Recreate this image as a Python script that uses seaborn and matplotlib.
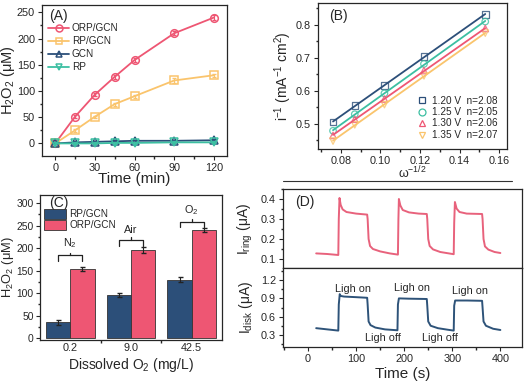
import numpy as np
import pandas as pd
import matplotlib
matplotlib.use("Agg")
import matplotlib.pyplot as plt
from matplotlib.lines import Line2D
from matplotlib.patches import Patch
from matplotlib.container import BarContainer
from matplotlib.ticker import MultipleLocator
import seaborn as sns

sns.set_theme(style="ticks")
plt.rcParams['font.family'] = ['Liberation Sans', 'DejaVu Sans']
plt.rcParams['mathtext.fontset'] = 'custom'
plt.rcParams['mathtext.rm'] = 'Liberation Sans'
plt.rcParams['mathtext.it'] = 'Liberation Sans:italic'
plt.rcParams['mathtext.default'] = 'regular'
plt.rcParams['axes.linewidth'] = 0.9
plt.rcParams['xtick.major.width'] = 0.8
plt.rcParams['ytick.major.width'] = 0.8
plt.rcParams['xtick.major.size'] = 3
plt.rcParams['ytick.major.size'] = 3
plt.rcParams['xtick.minor.size'] = 1.8
plt.rcParams['ytick.minor.size'] = 1.8

# ---------------- data ----------------
# (A)
time_min = [0, 15, 30, 45, 60, 90, 120]
orp_gcn = [0, 51, 93, 127, 159, 210, 240]
rp_gcn = [0, 25, 51, 75, 90, 120, 130]
gcn = [0, 2, 3, 4, 5, 5, 6]
rp = [0, 0, 0, 1, 1, 2, 2]
orp_err = [2, 3, 3, 4, 4, 4, 4]
rpg_err = [2, 3, 2, 3, 3, 4, 3]
gcn_err = [2, 2, 2, 2, 2, 2, 2]
rp_err = [2, 2, 2, 2, 2, 2, 2]

# (B)
omega = [0.076, 0.087, 0.102, 0.122, 0.153]
inv_i_120 = [0.505, 0.555, 0.616, 0.704, 0.830]
inv_i_125 = [0.479, 0.529, 0.592, 0.681, 0.809]
inv_i_130 = [0.465, 0.514, 0.575, 0.661, 0.788]
inv_i_135 = [0.448, 0.497, 0.558, 0.645, 0.774]
b_labels = ["1.20 V  n=2.08", "1.25 V  n=2.05", "1.30 V  n=2.06", "1.35 V  n=2.07"]

# (C)
do_levels = ["0.2", "9.0", "42.5"]
gas_labels = ["N$_2$", "Air", "O$_2$"]
c_rp_gcn = [35, 95, 130]
c_orp_gcn = [153, 196, 240]
c_rp_err = [5, 4, 6]
c_orp_err = [5, 6, 4]

# (D)
t_ring = [17, 40, 63, 64, 65.5, 68, 72, 80, 100, 123, 124, 126, 129, 135, 150, 170, 187,
          188, 189, 192, 197, 210, 230, 247, 248, 250, 253, 260, 275, 303,
          304, 305.5, 309, 315, 330, 362, 363, 365, 368, 375, 388, 400]
i_ring = [0.128, 0.125, 0.120, 0.30, 0.405, 0.370, 0.348, 0.335, 0.327, 0.322, 0.30, 0.20, 0.165, 0.150, 0.138, 0.128, 0.122,
          0.30, 0.400, 0.368, 0.345, 0.333, 0.327, 0.325, 0.30, 0.20, 0.165, 0.148, 0.135, 0.124,
          0.28, 0.385, 0.352, 0.335, 0.327, 0.325, 0.30, 0.20, 0.163, 0.147, 0.135, 0.130]
t_disk = [17, 40, 63, 64, 66, 68, 75, 100, 123, 124, 126, 130, 140, 160, 186,
          187, 189, 210, 247, 248, 250, 255, 270, 290, 303,
          304, 306, 330, 362, 363, 365, 370, 385, 400]
i_disk = [0.41, 0.39, 0.37, 0.80, 0.97, 0.94, 0.93, 0.92, 0.91, 0.80, 0.52, 0.46, 0.42, 0.39, 0.375,
          0.80, 0.90, 0.895, 0.89, 0.78, 0.52, 0.45, 0.41, 0.385, 0.37,
          0.78, 0.865, 0.865, 0.86, 0.75, 0.52, 0.45, 0.40, 0.38]

# ---------------- colours ----------------
c_red = "#EE5673"
c_orange = "#FAC46C"
c_navy = "#2C4F79"
c_teal = "#3CBFA2"

W, H = 526, 383
fig = plt.figure(figsize=(W / 100, H / 100), dpi=100)

def rect(l, r, t, b):
    return [l / W, 1 - b / H, (r - l) / W, (b - t) / H]

# ================= (A) =================
axA = fig.add_axes(rect(42, 227, 5, 156))
seriesA = [("ORP/GCN", orp_gcn, orp_err, c_red, "o"),
           ("RP/GCN", rp_gcn, rpg_err, c_orange, "s"),
           ("GCN", gcn, gcn_err, c_navy, "^"),
           ("RP", rp, rp_err, c_teal, "v")]
handlesA = []
for name, vals, err, col, mk in seriesA:
    sns.lineplot(x=time_min, y=vals, ax=axA, color=col, lw=1.3, marker=mk,
                 markersize=5.5, markerfacecolor="none", markeredgecolor=col,
                 markeredgewidth=1.1)
    axA.errorbar(time_min, vals, yerr=err, fmt="none", ecolor=col, elinewidth=0.8, capsize=1.5)
    handlesA.append(Line2D([0], [0], color=col, lw=1.3, marker=mk, markersize=5,
                           markerfacecolor="none", markeredgecolor=col, markeredgewidth=1.1))
axA.set_xlim(-10, 130)
axA.set_ylim(-24, 264)
axA.set_xticks([0, 30, 60, 90, 120])
axA.xaxis.set_minor_locator(MultipleLocator(15))
axA.set_yticks([0, 50, 100, 150, 200, 250])
axA.yaxis.set_minor_locator(MultipleLocator(25))
axA.tick_params(labelsize=7.8, pad=2)
axA.set_xlabel("Time (min)", fontsize=11, labelpad=-1)
axA.set_ylabel("H$_2$O$_2$ (μM)", fontsize=10.5)
axA.yaxis.set_label_coords(-0.135, 0.5)
axA.legend(handlesA, [s[0] for s in seriesA], loc="upper left", bbox_to_anchor=(0.0, 0.92),
           frameon=False, fontsize=7.2, handlelength=2.1, handletextpad=0.3,
           labelspacing=0.3, borderaxespad=0.2)
axA.text(0.04, 0.975, "(A)", transform=axA.transAxes, fontsize=10, va="top", ha="left")

# ================= (B) =================
axB = fig.add_axes(rect(318, 507, 3, 149))
seriesB = [(inv_i_120, c_navy, "s"), (inv_i_125, c_teal, "o"),
           (inv_i_130, c_red, "^"), (inv_i_135, c_orange, "v")]
handlesB = []
for vals, col, mk in seriesB:
    sns.regplot(x=omega, y=vals, ax=axB, ci=None, marker=mk, color=col,
                scatter_kws=dict(facecolors="none", edgecolors=col, s=22, linewidths=0.9),
                line_kws=dict(lw=1.3, color=col))
    handlesB.append(Line2D([0], [0], linestyle="none", marker=mk, markersize=5,
                           markerfacecolor="none", markeredgecolor=col, markeredgewidth=0.9))
axB.set_xlim(0.0684, 0.164)
axB.set_ylim(0.424, 0.865)
axB.set_xticks([0.08, 0.10, 0.12, 0.14, 0.16])
axB.set_xticklabels(["0.08", "0.10", "0.12", "0.14", "0.16"])
axB.xaxis.set_minor_locator(MultipleLocator(0.01))
axB.set_yticks([0.5, 0.6, 0.7, 0.8])
axB.yaxis.set_minor_locator(MultipleLocator(0.05))
axB.tick_params(labelsize=7.8, pad=2)
axB.set_xlabel("ω$^{-1/2}$", fontsize=9, labelpad=-1)
axB.set_ylabel("i$^{-1}$ (mA$^{-1}$ cm$^2$)", fontsize=10)
axB.yaxis.set_label_coords(-0.127, 0.5)
axB.legend(handlesB, b_labels, loc="lower right", frameon=False, fontsize=7.2,
           handletextpad=0.4, labelspacing=0.15, borderaxespad=0.5, handlelength=1.2)
axB.text(0.06, 0.96, "(B)", transform=axB.transAxes, fontsize=10, va="top", ha="left")

# ================= (C) =================
axC = fig.add_axes(rect(40, 222, 195, 340))
dfC = pd.DataFrame({
    "DO": do_levels * 2,
    "H2O2": c_rp_gcn + c_orp_gcn,
    "Sample": ["RP/GCN"] * 3 + ["ORP/GCN"] * 3,
})
sns.barplot(data=dfC, x="DO", y="H2O2", hue="Sample", palette=[c_navy, c_red],
            errorbar=None, width=0.8, ax=axC, edgecolor="#333333", linewidth=0.6,
            saturation=1, legend=False)
bar_conts = [c for c in axC.containers if isinstance(c, BarContainer)]
errs = [c_rp_err, c_orp_err]
centers = []
for k, cont in enumerate(bar_conts):
    xs = [p.get_x() + p.get_width() / 2 for p in cont.patches]
    hs = [p.get_height() for p in cont.patches]
    centers.append(xs)
    axC.errorbar(xs, hs, yerr=errs[k], fmt="none", ecolor="#222222", elinewidth=0.8, capsize=1.8)
blue_x, red_x = centers[0], centers[1]
# brackets
br_top = [184, 218, 258]
br_bot = [171, 204, 246]
br_txt = [195, 230, 270]
for i in range(3):
    x0, x1 = blue_x[i], red_x[i]
    axC.plot([x0, x0, x1, x1], [br_bot[i], br_top[i], br_top[i], br_bot[i]], color="#222222", lw=0.9)
    axC.plot([(x0 + x1) / 2] * 2, [br_top[i], br_top[i] + 6], color="#222222", lw=0.9)
    axC.text((x0 + x1) / 2, br_txt[i], gas_labels[i], ha="center", va="bottom", fontsize=7.8)
axC.set_xlim(-0.5, 2.5)
axC.set_ylim(-4.4, 318)
axC.set_yticks([0, 50, 100, 150, 200, 250, 300])
axC.yaxis.set_minor_locator(MultipleLocator(25))
axC.set_xticks([0.5, 1.5], minor=True)
axC.tick_params(axis="x", which="major", length=0)
axC.tick_params(labelsize=7.8, pad=2)
axC.tick_params(axis="y", labelsize=7.4, pad=1.5)
axC.set_xlabel("Dissolved O$_2$ (mg/L)", fontsize=10, labelpad=2)
axC.set_ylabel("H$_2$O$_2$ (μM)", fontsize=9.3)
axC.yaxis.set_label_coords(-0.13, 0.5)
axC.legend([Patch(facecolor=c_navy, edgecolor="#333333", lw=0.6),
            Patch(facecolor=c_red, edgecolor="#333333", lw=0.6)],
           ["RP/GCN", "ORP/GCN"], loc="upper left", bbox_to_anchor=(0.0, 0.93),
           frameon=False, fontsize=7.2, handlelength=2.2, handleheight=1.1,
           handletextpad=0.3, labelspacing=0.08, borderaxespad=0.0)
axC.text(0.05, 0.99, "(C)", transform=axC.transAxes, fontsize=10, va="top", ha="left")

# ================= (D) =================
axD1 = fig.add_axes(rect(283, 522, 189, 268))
axD2 = fig.add_axes(rect(283, 522, 268, 347), sharex=axD1)
sns.lineplot(x=t_ring, y=i_ring, ax=axD1, color="#E8627C", lw=1.4)
sns.lineplot(x=t_disk, y=i_disk, ax=axD2, color="#2E5379", lw=1.4)
axD1.set_xlim(-52, 445)
axD1.set_ylim(0.055, 0.45)
axD2.set_ylim(0.10, 1.40)
axD1.set_yticks([0.1, 0.2, 0.3, 0.4])
axD1.yaxis.set_minor_locator(MultipleLocator(0.05))
axD2.set_yticks([0.3, 0.6, 0.9, 1.2])
axD2.yaxis.set_minor_locator(MultipleLocator(0.15))
axD2.set_xticks([0, 100, 200, 300, 400])
axD2.xaxis.set_minor_locator(MultipleLocator(50))
axD1.tick_params(axis="x", which="both", bottom=False, labelbottom=False)
axD1.tick_params(labelsize=7.8, pad=2)
axD2.tick_params(labelsize=7.8, pad=2)
axD1.set_ylabel("I$_{ring}$ (μA)", fontsize=10)
axD2.set_ylabel("I$_{disk}$ (μA)", fontsize=10)
axD2.set_xlabel("Time (s)", fontsize=11, labelpad=2)
axD1.set_xlabel("")
axD1.text(0.05, 0.93, "(D)", transform=axD1.transAxes, fontsize=10, va="top", ha="left")
for xx, yy in [(93, 1.05), (217, 1.07), (337, 1.02)]:
    axD2.text(xx, yy, "Ligh on", ha="center", va="center", fontsize=7.8)
for xx, yy in [(155, 0.25), (275, 0.25)]:
    axD2.text(xx, yy, "Ligh off", ha="center", va="center", fontsize=7.8)
axD1.yaxis.set_label_coords(-0.118, 0.5)
axD2.yaxis.set_label_coords(-0.118, 0.5)

# thin separator line under panel B
fig.add_artist(Line2D([283 / W, 512 / W], [1 - 181 / H] * 2, transform=fig.transFigure,
                      color="#333333", lw=0.8))

fig.savefig("out.png", dpi=100)
